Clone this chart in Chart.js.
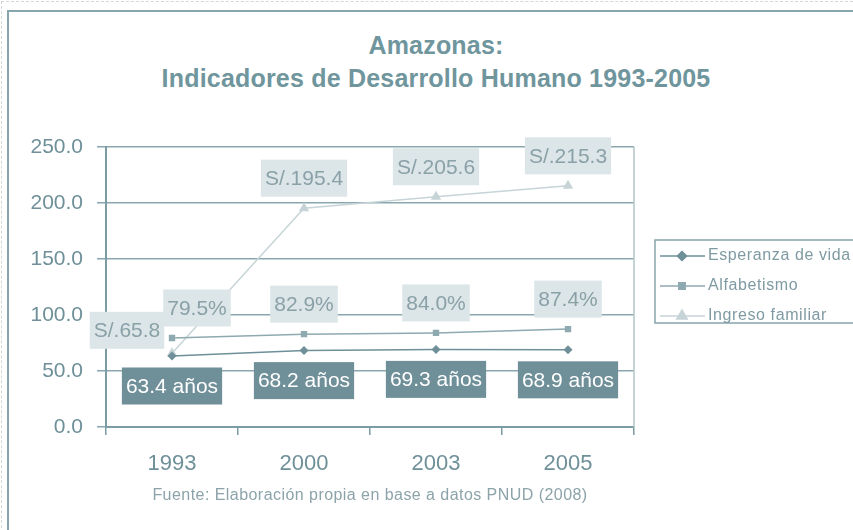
<!DOCTYPE html>
<html>
<head>
<meta charset="utf-8">
<script src="https://cdn.jsdelivr.net/npm/chart.js@4.4.1/dist/chart.umd.min.js"></script>
<style>
  html, body { margin: 0; padding: 0; background: #fff; }
  #wrap { position: relative; width: 853px; height: 530px; overflow: hidden; font-family: "Liberation Sans", Arial, sans-serif; }
  .dots { position: absolute; left: 1px; top: 1px; width: 900px; height: 600px; border: 1px dashed #d4d8d8; }
  .frame { position: absolute; left: 7px; top: 10px; width: 900px; height: 600px; border-left: 2px solid #87a5ac; border-top: 2px solid #87a5ac; }
  .title { position: absolute; left: 0; width: 872px; text-align: center; color: #6f959d; font-weight: bold; font-size: 25px; letter-spacing: 0.2px; }
  .foot { position: absolute; left: 106px; width: 528px; top: 486px; text-align: center; color: #8ca3aa; font-size: 16px; letter-spacing: 0.45px; }
  canvas { position: absolute; left: 0; top: 0; }
</style>
</head>
<body>
<div id="wrap">
  <div class="dots"></div>
  <div class="frame"></div>
  <div class="title" style="top:31px">Amazonas:</div>
  <div class="title" style="top:64px">Indicadores de Desarrollo Humano 1993-2005</div>
  <canvas id="chart" width="853" height="530"></canvas>
  <div class="foot">Fuente: Elaboración propia en base a datos PNUD (2008)</div>
</div>
<script>
const years = ['1993', '2000', '2003', '2005'];
const esperanza = [63.4, 68.2, 69.3, 68.9];
const alfabetismo = [79.5, 82.9, 84.0, 87.4];
const ingreso = [65.8, 195.4, 205.6, 215.3];

const esperanzaLabels = ['63.4 años', '68.2 años', '69.3 años', '68.9 años'];
const alfabetismoLabels = ['79.5%', '82.9%', '84.0%', '87.4%'];
const ingresoLabels = ['S/.65.8', 'S/.195.4', 'S/.205.6', 'S/.215.3'];

const axisColor = '#7b9ca4';
const textColor = '#6f9099';

// label boxes next to each point
const boxLabels = {
  id: 'boxLabels',
  afterDatasetsDraw(chart) {
    const c = chart.ctx;
    const sets = [
      { ds: 0, text: esperanzaLabels, bg: '#6f8f99', fg: '#ffffff', dx: [0, 0, 0, 0], dy: [30, 30, 30, 30] },
      { ds: 1, text: alfabetismoLabels, bg: '#dce5e7', fg: '#8aa1a8', dx: [25, 0, 0, 0], dy: [-30, -30, -30, -30] },
      { ds: 2, text: ingresoLabels, bg: '#dce5e7', fg: '#8aa1a8', dx: [-45, 0, 0, 0], dy: [-23, -30, -30, -30] }
    ];
    c.save();
    c.font = '21px "Liberation Sans", Arial, sans-serif';
    c.textAlign = 'center';
    c.textBaseline = 'middle';
    sets.forEach(s => {
      chart.getDatasetMeta(s.ds).data.forEach((pt, i) => {
        const x = pt.x + s.dx[i];
        const y = pt.y + s.dy[i];
        const w = c.measureText(s.text[i]).width + 8;
        const h = 37;
        c.fillStyle = s.bg;
        c.fillRect(x - w / 2, y - h / 2, w, h);
        c.fillStyle = s.fg;
        c.fillText(s.text[i], x, y + 1);
      });
    });
    c.restore();
  }
};

// right border of plot and boxed legend
const extras = {
  id: 'extras',
  beforeDatasetsDraw(chart) {
    const a = chart.chartArea;
    const c = chart.ctx;
    c.save();
    c.strokeStyle = '#b3c5c9';
    c.lineWidth = 1.5;
    c.beginPath();
    c.moveTo(a.right, a.top);
    c.lineTo(a.right, a.bottom);
    c.stroke();
    c.restore();
  },
  afterDraw(chart) {
    const c = chart.ctx;
    c.save();
    c.strokeStyle = '#87a5ac';
    c.lineWidth = 1.5;
    c.strokeRect(655, 240, 240, 83);
    c.font = '16px "Liberation Sans", Arial, sans-serif';
    c.textBaseline = 'middle';
    c.letterSpacing = '0.6px';
    chart.data.datasets.forEach((ds, i) => {
      const y = 256 + i * 30;
      c.strokeStyle = ds.borderColor;
      c.lineWidth = 1.5;
      c.beginPath();
      c.moveTo(660, y);
      c.lineTo(705, y);
      c.stroke();
      Chart.helpers.drawPoint(c, {
        pointStyle: ds.pointStyle, radius: ds.pointRadius,
        borderWidth: 1
      }, 682, y);
      c.fillStyle = ds.borderColor;
      c.fill();
      c.fillStyle = '#7f9aa2';
      c.fillText(ds.label, 708, y);
    });
    c.restore();
  }
};

new Chart(document.getElementById('chart'), {
  type: 'line',
  data: {
    labels: years,
    datasets: [
      {
        label: 'Esperanza de vida',
        data: esperanza,
        borderColor: '#6f8f99',
        backgroundColor: '#6f8f99',
        borderWidth: 1.5,
        pointStyle: 'rectRot',
        pointRadius: 4.5,
        pointBorderWidth: 0
      },
      {
        label: 'Alfabetismo',
        data: alfabetismo,
        borderColor: '#8fa9b1',
        backgroundColor: '#8fa9b1',
        borderWidth: 1.5,
        pointStyle: 'rect',
        pointRadius: 4.5,
        pointBorderWidth: 0
      },
      {
        label: 'Ingreso familiar',
        data: ingreso,
        borderColor: '#c7d4d7',
        backgroundColor: '#c7d4d7',
        borderWidth: 1.5,
        pointStyle: 'triangle',
        pointRadius: 6,
        pointBorderWidth: 0
      }
    ]
  },
  options: {
    responsive: false,
    animation: false,
    layout: { padding: { top: 147, right: 219, bottom: 53, left: 0 } },
    plugins: {
      legend: { display: false },
      tooltip: { enabled: false }
    },
    scales: {
      x: {
        offset: true,
        afterFit(scale) { scale.height = 50; },
        grid: {
          offset: true,
          drawOnChartArea: false,
          drawTicks: true,
          tickLength: 8,
          color: axisColor,
          lineWidth: 1.5
        },
        border: { display: true, color: axisColor, width: 2 },
        ticks: {
          color: textColor,
          padding: 16,
          font: { family: '"Liberation Sans", Arial, sans-serif', size: 22 }
        }
      },
      y: {
        min: 0,
        max: 250,
        afterFit(scale) { scale.width = 106; },
        grid: {
          color: '#8aa7ae',
          lineWidth: 1.5,
          drawTicks: true,
          tickLength: 9
        },
        border: { display: true, color: axisColor, width: 2 },
        ticks: {
          stepSize: 50,
          color: textColor,
          padding: 14,
          font: { family: '"Liberation Sans", Arial, sans-serif', size: 21 },
          callback: v => v.toFixed(1)
        }
      }
    }
  },
  plugins: [extras, boxLabels]
});
</script>
</body>
</html>
